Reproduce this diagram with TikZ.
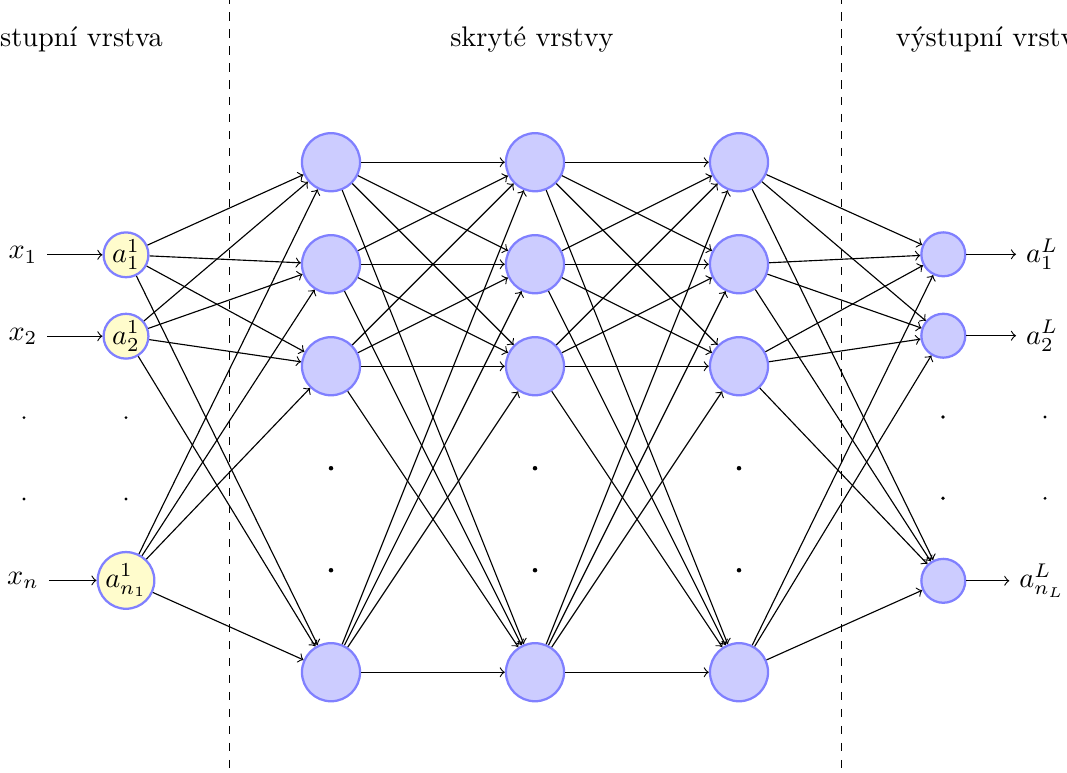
\documentclass[tikz,border=0pt]{standalone}
\usepackage{fontspec}
\begin{document}
\begin{tikzpicture}[x=0.353pt,y=-0.353pt,
  hid/.style={circle, draw=blue!50, fill=blue!20, thick, minimum size=20.5pt, inner sep=0pt},
  inp/.style={circle, draw=blue!50, fill=yellow!20, thick, minimum size=15.5pt, inner sep=0.5pt},
  outn/.style={circle, draw=blue!50, fill=blue!20, thick, minimum size=15.5pt, inner sep=0pt},
  conn/.style={->},
  sepline/.style={dashed},
  dotS/.style={circle, fill=black, inner sep=0pt, minimum size=1.1pt},
  dotM/.style={circle, fill=black, inner sep=0pt, minimum size=1.3pt},
  dotL/.style={circle, fill=black, inner sep=0pt, minimum size=1.6pt},
  head/.style={anchor=base}]
\useasboundingbox (0,0) rectangle (1067,772);

% separators
\coordinate (s1t) at (229.3,-5); \coordinate (s1b) at (229.3,780);
\coordinate (s2t) at (841.5,-5); \coordinate (s2b) at (841.5,780);
\draw[sepline] (s1t) -- (s1b);
\draw[sepline] (s2t) -- (s2b);

% headings
\node[head] (h1) at (74,46.7) {vstupní vrstva};
\node[head] (h2) at (532,46.7) {skryté vrstvy};
\node[head] (h3) at (992,46.7) {výstupní vrstva};

% input layer
\node[inp] (I1) at (126,254.8) {$a_1^1$};
\node[inp] (I2) at (126,336.2) {$a_2^1$};
\node[inp] (I3) at (126,580.4) {$a_{n_1}^1$};
\node[dotS] (di1) at (126,417.6) {};
\node[dotS] (di2) at (126,499) {};

% input labels
\node (X1) at (23,254.8) {$x_1$};
\node (X2) at (23,336.2) {$x_2$};
\node (X3) at (23,580.4) {$x_n$};
\node[dotS] (dx1) at (24,417.6) {};
\node[dotS] (dx2) at (24,499) {};

% hidden layers
\foreach \l/\x in {1/331,2/535,3/739}{
  \node[hid] (H\l1) at (\x,162.2) {};
  \node[hid] (H\l2) at (\x,264.2) {};
  \node[hid] (H\l3) at (\x,366.2) {};
  \node[hid] (H\l4) at (\x,672.2) {};
  \node[dotL] (dh\l1) at (\x,468.2) {};
  \node[dotL] (dh\l2) at (\x,570.2) {};
}

% output layer
\node[outn] (O1) at (943.3,254.3) {};
\node[outn] (O2) at (943.3,335.7) {};
\node[outn] (O3) at (943.3,580.8) {};
\node[dotM] (do1) at (943,417) {};
\node[dotM] (do2) at (943,498.3) {};

% output labels
\node (Y1) at (1042,254.3) {$a_1^L$};
\node (Y2) at (1042,335.7) {$a_2^L$};
\node (Y3) at (1042,580.8) {$a_{n_L}^L$};
\node[dotS] (dy1) at (1045,417) {};
\node[dotS] (dy2) at (1045,498.3) {};

% connections
\foreach \i in {1,2,3}{
  \draw[conn] (X\i) -- (I\i);
  \draw[conn] (O\i) -- (Y\i);
  \foreach \j in {1,...,4}{
    \draw[conn] (I\i) -- (H1\j);
    \draw[conn] (H3\j) -- (O\i);
  }
}
\foreach \i in {1,...,4}{
  \foreach \j in {1,...,4}{
    \draw[conn] (H1\i) -- (H2\j);
    \draw[conn] (H2\i) -- (H3\j);
  }
}
\end{tikzpicture}
\end{document}
